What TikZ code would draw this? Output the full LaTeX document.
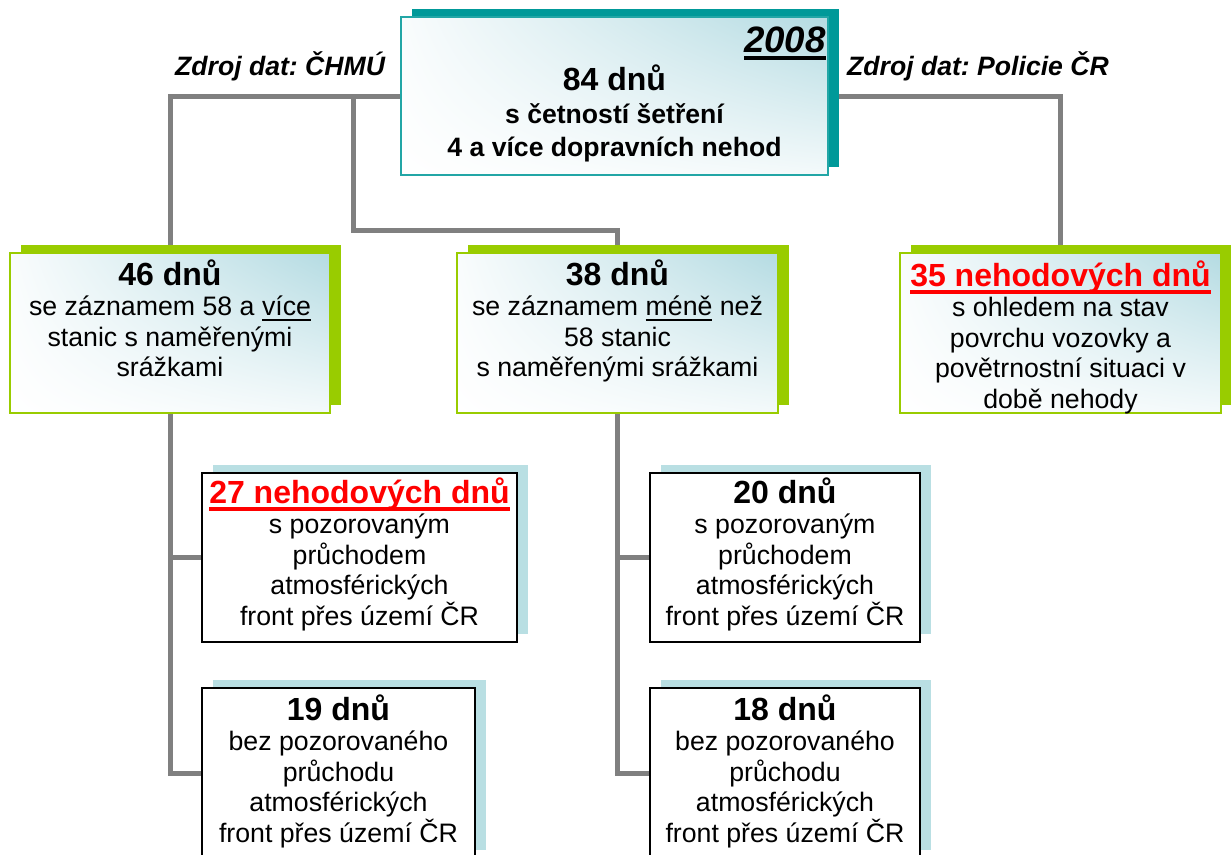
\documentclass[tikz,border=0pt]{standalone}
\usepackage{fontspec}
\setmainfont{Liberation Sans}
\usetikzlibrary{shadows,shadings}
\pgfdeclarelayer{bg}
\pgfsetlayers{bg,main}
\definecolor{tealc}{HTML}{009999}
\definecolor{tealb}{HTML}{22A6A6}
\definecolor{greenc}{HTML}{99CC00}
\definecolor{lblue}{HTML}{B9DFE3}
\definecolor{gradc}{HTML}{B4DBE2}
\definecolor{linec}{HTML}{808080}
\definecolor{redc}{HTML}{FF0000}
\frenchspacing
\newcommand\myul[3]{\leavevmode\setbox0\hbox{#3}\rlap{\rule[-#1]{\wd0}{#2}}\box0\relax}
\newcommand\bodyf{\fontsize{26.7pt}{30.5pt}\selectfont}
\newcommand\titlef{\fontsize{32pt}{32pt}\selectfont\bfseries}
\newcommand\fst{\rule{0pt}{26pt}}
\begin{document}
\begin{tikzpicture}[x=1pt,y=-1pt,
  gradbox/.style={rectangle, inner sep=0pt, line width=2pt, shade,
    upper right=gradc, upper left=white!92!gradc, lower left=white, lower right=white!85!gradc},
  topbox/.style={gradbox, draw=tealb, general shadow={fill=tealc, shadow xshift=11pt, shadow yshift=8pt}},
  midbox/.style={gradbox, draw=greenc, general shadow={fill=greenc, shadow xshift=11pt, shadow yshift=8pt}},
  lowbox/.style={rectangle, inner sep=0pt, line width=2pt, draw=black, fill=white,
    general shadow={fill=lblue, shadow xshift=11pt, shadow yshift=8pt}},
  txt/.style={anchor=north, inner sep=0pt, align=center, font=\bodyf},
  conn/.style={draw=linec, line width=5pt, line join=miter},
  src/.style={font=\fontsize{26.6pt}{30pt}\selectfont\bfseries\itshape, anchor=base west, inner sep=0pt}]
\useasboundingbox (0,0) rectangle (1231,854);
\clip (0,0) rectangle (1231,854);

% boxes
\node[topbox, minimum width=427pt, minimum height=158pt] (T) at (614.5,96) {};
\node[midbox, minimum width=320pt, minimum height=160pt] (A) at (170,333) {};
\node[midbox, minimum width=321pt, minimum height=160pt] (B) at (617.5,333) {};
\node[midbox, minimum width=321pt, minimum height=160pt] (C) at (1060.5,333) {};
\node[lowbox, minimum width=315pt, minimum height=169pt] (D) at (359.5,557.5) {};
\node[lowbox, minimum width=273pt, minimum height=170pt] (E) at (338.5,773) {};
\node[lowbox, minimum width=270pt, minimum height=169pt] (F) at (785,557.5) {};
\node[lowbox, minimum width=270pt, minimum height=170pt] (G) at (785,773) {};

% connectors
\coordinate (j1) at (353,96);
\coordinate (k1) at (353,230);
\begin{pgfonlayer}{bg}
\draw[conn] (T.west) -| (A.north);
\draw[conn] (j1) -- (k1) -| (B.north);
\draw[conn] (T.east) -| (C.north);
\draw[conn] (A.south) |- (E.west);
\draw[conn] (A.south |- D.west) -- (D.west);
\draw[conn] (B.south) |- (G.west);
\draw[conn] (B.south |- F.west) -- (F.west);
\end{pgfonlayer}

% texts
\node[anchor=base east, inner sep=0pt, font=\fontsize{36.7pt}{40pt}\selectfont\bfseries\itshape] (y08) at (826,52) {\myul{8pt}{4pt}{2008}};
\node[txt, font=\fontsize{26.6pt}{33pt}\selectfont\bfseries] (tT) at (614.5,64) {{\titlef\fst 84 dnů}\\ s četností šetření\\ 4 a více dopravních nehod};
\node[src] (s1) at (175,75) {Zdroj dat: ČHMÚ};
\node[src] (s2) at (847,75) {Zdroj dat: Policie ČR};

\node[txt] (tA) at (170,259) {{\titlef\fst 46 dnů}\\ se záznamem 58 a \myul{5pt}{1.6pt}{více}\\ stanic s naměřenými\\ srážkami};
\node[txt] (tB) at (617.5,259) {{\titlef\fst 38 dnů}\\ se záznamem \myul{5pt}{1.6pt}{méně} než\\ 58 stanic\\ s naměřenými srážkami};
\node[txt] (tC) at (1060.5,260) {{\titlef\fst\color{redc}\myul{7.5pt}{3.8pt}{35 nehodových dnů}}\\ s ohledem na stav\\ povrchu vozovky a\\ povětrnostní situaci v\\ době nehody};
\node[txt] (tD) at (359.5,477) {{\titlef\fst\color{redc}\myul{7.5pt}{3.8pt}{27 nehodových dnů}}\\ s pozorovaným\\ průchodem\\ atmosférických\\ front přes území ČR};
\node[txt] (tE) at (338.5,694) {{\titlef\fst 19 dnů}\\ bez pozorovaného\\ průchodu\\ atmosférických\\ front přes území ČR};
\node[txt] (tF) at (785,477) {{\titlef\fst 20 dnů}\\ s pozorovaným\\ průchodem\\ atmosférických\\ front přes území ČR};
\node[txt] (tG) at (785,694) {{\titlef\fst 18 dnů}\\ bez pozorovaného\\ průchodu\\ atmosférických\\ front přes území ČR};
\end{tikzpicture}
\end{document}
